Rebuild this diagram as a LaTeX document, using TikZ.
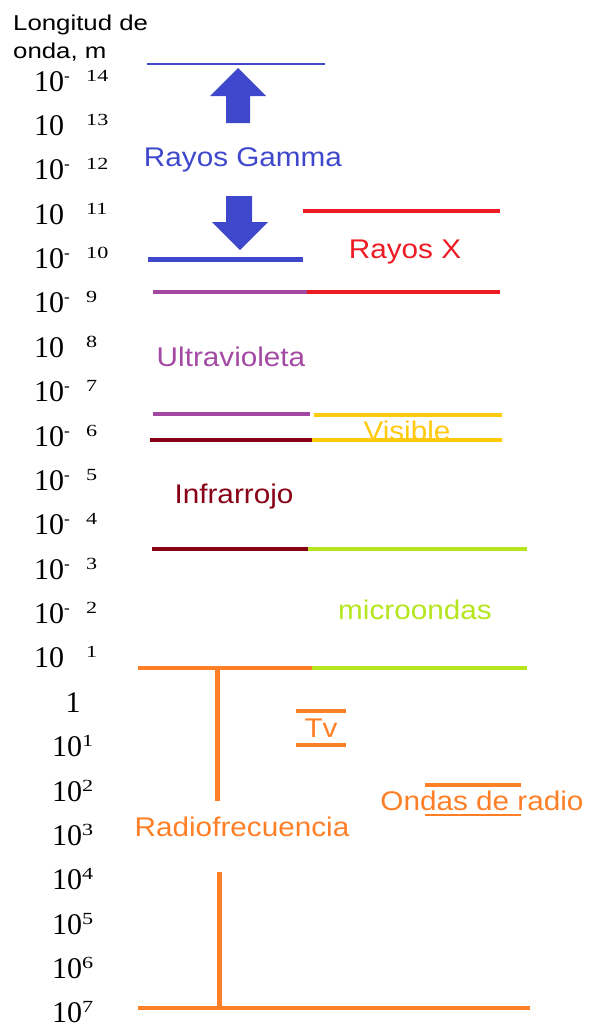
\documentclass[tikz,border=0pt]{standalone}
\usepackage{fontspec}
\setmainfont{Liberation Serif}
\setsansfont{Liberation Sans}
\usetikzlibrary{positioning}
\definecolor{emblue}{HTML}{3F48CC}
\definecolor{emred}{HTML}{ED1C24}
\definecolor{empurple}{HTML}{A349A4}
\definecolor{emgold}{HTML}{FFC90E}
\definecolor{emdark}{HTML}{880015}
\definecolor{emgreen}{HTML}{B5E61D}
\definecolor{emorange}{HTML}{FF7F27}
\newcommand\widen[1]{\scalebox{1.1}[1]{#1}}
\newcommand\supsz{\fontsize{17}{17}\selectfont}

\begin{document}
\begin{tikzpicture}[x=1pt,y=-1pt,
  band/.style={font=\fontsize{27}{27}\sffamily,inner sep=0pt,anchor=base},
  tick/.style={font=\fontsize{30}{30}\selectfont,inner sep=0pt,anchor=base west},
  head/.style={font=\fontsize{21.5}{22}\sffamily,inner sep=0pt,anchor=base west},
  edge/.style={line width=3.2pt},
  radio/.style={emorange,line width=4pt}
]
  \useasboundingbox (0,0) rectangle (592,1028);

  % ---- Axis title ------------------------------------------------
  \node[head] (tit1) at (13,30) {\scalebox{1.2}[1]{Longitud de}};
  \node[head] (tit2) at (13,58) {\scalebox{1.2}[1]{onda, m}};

  % ---- Scale labels ----------------------------------------------
  \foreach \ex/\mk [count=\i from 0] in {14/-,13/{},12/-,11/{},10/-,9/-,8/{},7/-,6/-,5/-,4/-,3/-,2/-,1/{}}
    \node[tick] (n\ex) at (34,91+44.38*\i)
      {10\raisebox{10pt}{\supsz\makebox[22pt][l]{\mk}\scalebox{1.3}[1]{\ex}}};
  \node[tick,anchor=base] (one) at (73,712.3) {1};
  \foreach \ex in {1,...,7}
    \node[tick] (p\ex) at (52,712.3+44.38*\ex)
      {10\raisebox{10pt}{\supsz\scalebox{1.3}[1]{\ex}}};

  % ---- Rayos Gamma -----------------------------------------------
  \draw[emblue,line width=2pt] (147,64) -- (325,64);
  \fill[emblue] (226,123) -- (226,96) -- (210,96) -- (238,68)
    -- (266,96) -- (250,96) -- (250,123) -- cycle;
  \node[band,text=emblue] (gamma) at (243,166) {\widen{Rayos Gamma}};
  \fill[emblue] (226,196) -- (226,222) -- (212,222) -- (240,250)
    -- (268,222) -- (252,222) -- (252,196) -- cycle;
  \draw[emblue,line width=5pt] (148,259) -- (303,259);

  % ---- Rayos X ---------------------------------------------------
  \draw[edge,emred] (303,211) -- (500,211);
  \node[band,text=emred] (xray) at (405,258) {\widen{Rayos X}};
  \draw[edge,emred] (307,292) -- (500,292);

  % ---- Ultravioleta / Visible ------------------------------------
  \draw[edge,empurple] (153,292) -- (307,292);
  \node[band,text=empurple] (uv) at (231,366) {\widen{Ultravioleta}};
  \draw[edge,empurple] (153,414) -- (310,414);
  \draw[edge,emgold,line width=3.6pt] (314,415) -- (502,415);
  \node[band,text=emgold] (vis) at (407,440) {\widen{Visible}};
  \draw[edge,emgold,line width=3.6pt] (312,440) -- (502,440);

  % ---- Infrarrojo ------------------------------------------------
  \draw[edge,emdark] (150,440) -- (312,440);
  \node[band,text=emdark] (ir) at (234,503) {\widen{Infrarrojo}};
  \draw[edge,emdark,line width=3.8pt] (152,549) -- (308,549);

  % ---- microondas ------------------------------------------------
  \draw[edge,emgreen,line width=3.6pt] (308,549) -- (527,549);
  \node[band,text=emgreen] (micro) at (415,619) {\widen{microondas}};
  \draw[edge,emgreen,line width=3.6pt] (312,668) -- (527,668);

  % ---- Radiofrecuencia -------------------------------------------
  \draw[radio] (138,668) -- (312,668);
  \draw[radio,line width=5pt] (217,666) -- (217,801);
  \node[band,text=emorange] (rf) at (242,836) {\widen{Radiofrecuencia}};
  \draw[radio,line width=5pt] (219,872) -- (219,1008);
  \draw[radio] (138,1008) -- (530,1008);

  \draw[radio] (296,711) -- (346,711);
  \node[band,text=emorange] (tv) at (321,737) {\widen{Tv}};
  \draw[radio] (296,745) -- (346,745);

  \draw[radio,line width=4.5pt] (425,785) -- (521,785);
  \node[band,text=emorange] (radio) at (482,810) {\widen{Ondas de radio}};
  \draw[emorange,line width=2pt] (425,815) -- (521,815);

\end{tikzpicture}
\end{document}
